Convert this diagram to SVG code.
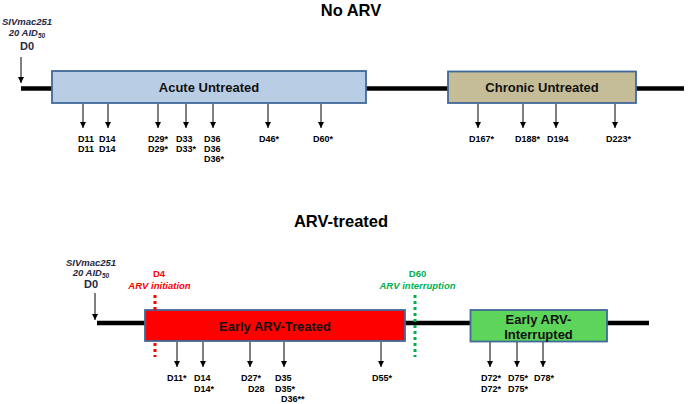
<svg xmlns="http://www.w3.org/2000/svg" width="696" height="404" viewBox="0 0 696 404">
<defs>
<marker id="ah" markerUnits="userSpaceOnUse" markerWidth="8" markerHeight="8" viewBox="0 0 8 8" refX="7" refY="4" orient="auto">
<path d="M1,1 L7,4 L1,7 Z" fill="#000"/>
</marker>
</defs>
<style>
text{font-family:"Liberation Sans",Arial,sans-serif;font-weight:bold}
.title{font-size:16.5px;text-anchor:middle;fill:#000}
.box{font-size:13px;text-anchor:middle;fill:#111}
.lab{font-size:9px;fill:#000}
.inoc{font-size:9.5px;font-style:italic;text-anchor:middle;fill:#1f2a44}
.d0{font-size:11px;text-anchor:middle;fill:#1f2a44}
.tl{stroke:#000;stroke-width:4.5;fill:none}
.arr{stroke:#000;stroke-width:1;fill:none;marker-end:url(#ah)}
.bx{stroke:#41699a;stroke-width:1.8}
</style>
<text class="title" x="351" y="16">No ARV</text>
<text class="title" x="341" y="227">ARV-treated</text>

<g id="connectors">
<line class="tl" x1="21" y1="88.5" x2="684" y2="88.5"/>
<line class="tl" x1="97" y1="323" x2="649" y2="323"/>
<line class="arr" x1="21" y1="57" x2="21" y2="83"/>
<line class="arr" x1="95" y1="293" x2="95" y2="320"/>
<g id="top-arrows">
<line class="arr" x1="83" y1="104" x2="83" y2="128"/>
<line class="arr" x1="108" y1="104" x2="108" y2="128"/>
<line class="arr" x1="158" y1="104" x2="158" y2="128"/>
<line class="arr" x1="186" y1="104" x2="186" y2="128"/>
<line class="arr" x1="213" y1="104" x2="213" y2="128"/>
<line class="arr" x1="268" y1="104" x2="268" y2="128"/>
<line class="arr" x1="321" y1="104" x2="321" y2="128"/>
<line class="arr" x1="478" y1="104" x2="478" y2="128"/>
<line class="arr" x1="523" y1="104" x2="523" y2="128"/>
<line class="arr" x1="556" y1="104" x2="556" y2="128"/>
<line class="arr" x1="615" y1="104" x2="615" y2="128"/>
</g>
<g id="bottom-arrows">
<line class="arr" x1="177" y1="342" x2="177" y2="367"/>
<line class="arr" x1="203" y1="342" x2="203" y2="367"/>
<line class="arr" x1="250" y1="342" x2="250" y2="367"/>
<line class="arr" x1="284" y1="342" x2="284" y2="367"/>
<line class="arr" x1="381" y1="342" x2="381" y2="367"/>
<line class="arr" x1="490" y1="342" x2="490" y2="367"/>
<line class="arr" x1="517" y1="342" x2="517" y2="367"/>
<line class="arr" x1="543" y1="342" x2="543" y2="367"/>
</g>
</g>

<g id="inoc-top">
<text class="inoc" x="27" y="25">SIVmac251</text>
<text class="inoc" x="27" y="36">20 AID<tspan font-size="6.5px" dy="2">50</tspan></text>
<text class="d0" x="27" y="50">D0</text>
</g>
<g id="inoc-bottom">
<text class="inoc" x="91" y="265.5">SIVmac251</text>
<text class="inoc" x="91" y="276">20 AID<tspan font-size="6.5px" dy="2">50</tspan></text>
<text class="d0" x="91" y="288">D0</text>
</g>

<g id="acute">
<rect class="bx" x="52" y="71" width="314" height="32" fill="#b9cde5"/>
<text class="box" x="209" y="92">Acute Untreated</text>
</g>
<g id="chronic">
<rect class="bx" x="448" y="71.5" width="188" height="31.5" fill="#c4bd97"/>
<text class="box" x="542" y="92">Chronic Untreated</text>
</g>

<g id="early-treated">
<rect class="bx" x="145" y="310" width="260" height="31" fill="#ff0000"/>
<text class="box" x="275" y="330.5">Early ARV-Treated</text>
</g>
<g id="early-interrupted">
<rect class="bx" x="470.5" y="310" width="136.5" height="31.5" fill="#5dd55a"/>
<text class="box" x="538.5" y="323.5">Early ARV-</text>
<text class="box" x="538.5" y="338.5">Interrupted</text>
</g>

<g id="arv-init">
<line x1="155" y1="295" x2="155" y2="357" stroke="#ff0000" stroke-width="3" stroke-dasharray="3,3"/>
<text x="159" y="277" font-size="9.5px" text-anchor="middle" fill="#ff0000">D4</text>
<text x="159.5" y="288.5" font-size="9.5px" font-style="italic" text-anchor="middle" fill="#ff0000">ARV initiation</text>
</g>
<g id="arv-interrupt">
<line x1="415" y1="295" x2="415" y2="357" stroke="#00b050" stroke-width="3" stroke-dasharray="3,3"/>
<text x="417.5" y="277" font-size="9.5px" text-anchor="middle" fill="#00b050">D60</text>
<text x="417.5" y="288.5" font-size="9.5px" font-style="italic" text-anchor="middle" fill="#00b050">ARV interruption</text>
</g>

<g id="top-labels">
<text class="lab" x="78" y="141.5">D11</text>
<text class="lab" x="78" y="151.5">D11</text>
<text class="lab" x="99" y="141.5">D14</text>
<text class="lab" x="99" y="151.5">D14</text>
<text class="lab" x="148" y="141.5">D29*</text>
<text class="lab" x="148" y="151.5">D29*</text>
<text class="lab" x="176" y="141.5">D33</text>
<text class="lab" x="176" y="151.5">D33*</text>
<text class="lab" x="204" y="141.5">D36</text>
<text class="lab" x="204" y="151.5">D36</text>
<text class="lab" x="204" y="161.5">D36*</text>
<text class="lab" x="259" y="141.5">D46*</text>
<text class="lab" x="313" y="141.5">D60*</text>
<text class="lab" x="469" y="141.5">D167*</text>
<text class="lab" x="515" y="141.5">D188*</text>
<text class="lab" x="547" y="141.5">D194</text>
<text class="lab" x="606" y="141.5">D223*</text>
</g>
<g id="bottom-labels">
<text class="lab" x="167" y="381">D11*</text>
<text class="lab" x="194" y="381">D14</text>
<text class="lab" x="194" y="391.5">D14*</text>
<text class="lab" x="241" y="381">D27*</text>
<text class="lab" x="248" y="391.5">D28</text>
<text class="lab" x="275" y="381">D35</text>
<text class="lab" x="275" y="391.5">D35*</text>
<text class="lab" x="281" y="402">D36**</text>
<text class="lab" x="372" y="381">D55*</text>
<text class="lab" x="481" y="381">D72*</text>
<text class="lab" x="481" y="391.5">D72*</text>
<text class="lab" x="508" y="381">D75*</text>
<text class="lab" x="508" y="391.5">D75*</text>
<text class="lab" x="534" y="381">D78*</text>
</g>
</svg>
